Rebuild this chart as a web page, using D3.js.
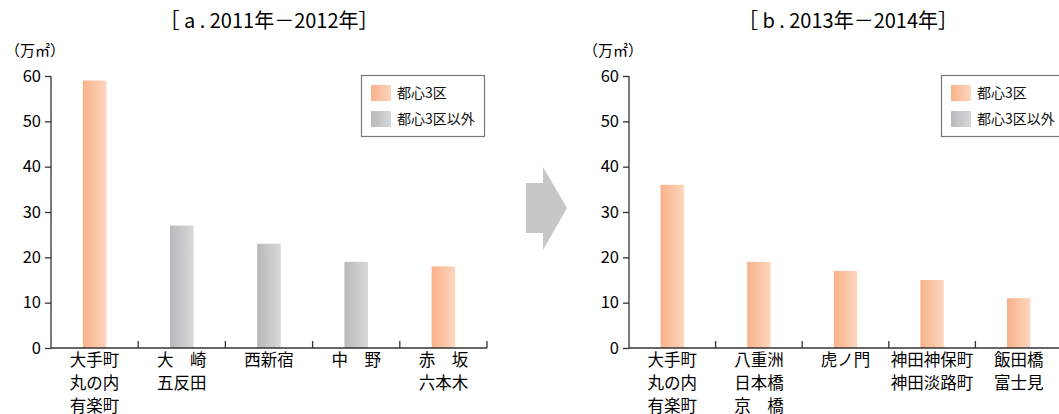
<!DOCTYPE html>
<html><head><meta charset="utf-8">
<script src="https://cdn.jsdelivr.net/npm/d3@7"></script>
<style>
html,body{margin:0;padding:0;background:#fff;}
svg{display:block;font-family:"Noto Sans CJK JP","Noto Sans",sans-serif;font-weight:400;}
</style></head>
<body>
<svg id="chart" width="1059" height="414"></svg>
<script>
// Office supply by area (10,000 m²)
const titleA = "［ a . 2011年－2012年］";
const titleB = "［ b . 2013年－2014年］";
const categoriesA = [["大手町","丸の内","有楽町"],["大　崎","五反田"],["西新宿"],["中　野"],["赤　坂","六本木"]];
const valuesA = [59, 27, 23, 19, 18];
const groupsA = ["core","other","other","other","core"];
const categoriesB = [["大手町","丸の内","有楽町"],["八重洲","日本橋","京　橋"],["虎ノ門"],["神田神保町","神田淡路町"],["飯田橋","富士見"]];
const valuesB = [36, 19, 17, 15, 11];
const groupsB = ["core","core","core","core","core"];
const yTicks = [0, 10, 20, 30, 40, 50, 60];
const unitLabel = "（万㎡）";
const legendItems = [{key:"core", label:"都心3区"}, {key:"other", label:"都心3区以外"}];

const svg = d3.select("#chart");
const defs = svg.append("defs");
function grad(id, c1, c2){
  const g = defs.append("linearGradient").attr("id", id).attr("x1","0").attr("x2","1").attr("y1","0").attr("y2","0");
  g.append("stop").attr("offset","0").attr("stop-color",c1);
  g.append("stop").attr("offset","1").attr("stop-color",c2);
}
grad("g-core", "#f8b189", "#fdd6bf");
grad("g-other", "#b8b9bc", "#d7d8da");
const fillFor = k => k === "core" ? "url(#g-core)" : "url(#g-other)";

function panel(opts){
  const {x0, x1, title, titleX, cats, vals, groups, legendX} = opts;
  const y = d3.scaleLinear().domain([0, 60]).range([348, 76]);
  const x = d3.scaleBand().domain(d3.range(cats.length)).range([x0, x1]).padding(0);
  const g = svg.append("g");

  g.append("text").attr("x", titleX).attr("y", 28).attr("text-anchor","middle")
    .attr("font-size", 20).attr("fill","#000").text(title);
  g.append("text").attr("x", x0 - 46).attr("y", 56).attr("font-size", 15).attr("fill","#000").text(unitLabel);

  // bars
  const bw = x.bandwidth() * 0.27;
  g.selectAll("rect.bar").data(vals).join("rect").attr("class","bar")
    .attr("x", (d,i) => x(i) + x.bandwidth()/2 - bw/2)
    .attr("y", d => y(d)).attr("width", bw).attr("height", d => y(0) - y(d))
    .attr("fill", (d,i) => fillFor(groups[i]));

  // y axis
  const ya = g.append("g").attr("transform", `translate(${x0},0)`)
    .call(d3.axisLeft(y).tickValues(yTicks).tickSize(6).tickPadding(4));
  ya.select(".domain").attr("stroke","#333").attr("stroke-width",1.3).attr("d", `M0,${y(60)}V${y(0)}`);
  ya.selectAll(".tick line").attr("stroke","#333").attr("stroke-width",1.3);
  ya.selectAll(".tick text").attr("font-size",16.5).attr("fill","#000")
    .attr("font-family","'Noto Sans CJK JP',sans-serif");

  // x axis with boundary ticks pointing up
  g.append("line").attr("x1", x0).attr("x2", x1).attr("y1", y(0)).attr("y2", y(0))
    .attr("stroke","#333").attr("stroke-width",1.3);
  g.selectAll("line.xt").data(d3.range(1, cats.length + 1)).join("line").attr("class","xt")
    .attr("x1", i => x.step()*i + x0).attr("x2", i => x.step()*i + x0)
    .attr("y1", y(0)).attr("y2", y(0) - 7).attr("stroke","#333").attr("stroke-width",1.3);

  // category labels
  cats.forEach((lines, i) => {
    const t = g.append("text").attr("x", x(i) + x.bandwidth()/2).attr("y", 366)
      .attr("text-anchor","middle").attr("font-size",16.5).attr("fill","#000");
    lines.forEach((ln, j) => t.append("tspan").attr("x", x(i) + x.bandwidth()/2).attr("dy", j ? 23 : 0).text(ln));
  });

  // legend
  const lg = g.append("g").attr("transform", `translate(${legendX},75)`);
  lg.append("rect").attr("x",0.5).attr("y",0.5).attr("width",123).attr("height",61)
    .attr("fill","#fff").attr("stroke","#777").attr("stroke-width",1.2);
  legendItems.forEach((it, j) => {
    lg.append("rect").attr("x",10).attr("y",10 + j*26).attr("width",20).attr("height",16).attr("fill", fillFor(it.key));
    lg.append("text").attr("x",36).attr("y",23 + j*26).attr("font-size",14).attr("fill","#111").text(it.label);
  });
}

panel({x0:51, x1:487, title:titleA, titleX:269, cats:categoriesA, vals:valuesA, groups:groupsA, legendX:361});
panel({x0:629, x1:1062, title:titleB, titleX:848, cats:categoriesB, vals:valuesB, groups:groupsB, legendX:941});

// transition arrow between the two panels
const arrowPts = [[526,183],[543,183],[543,167],[567,208],[543,250],[543,233],[526,233]];
svg.append("path").attr("d", d3.line()(arrowPts) + "Z").attr("fill","#c6c7c9");
</script>
</body></html>
